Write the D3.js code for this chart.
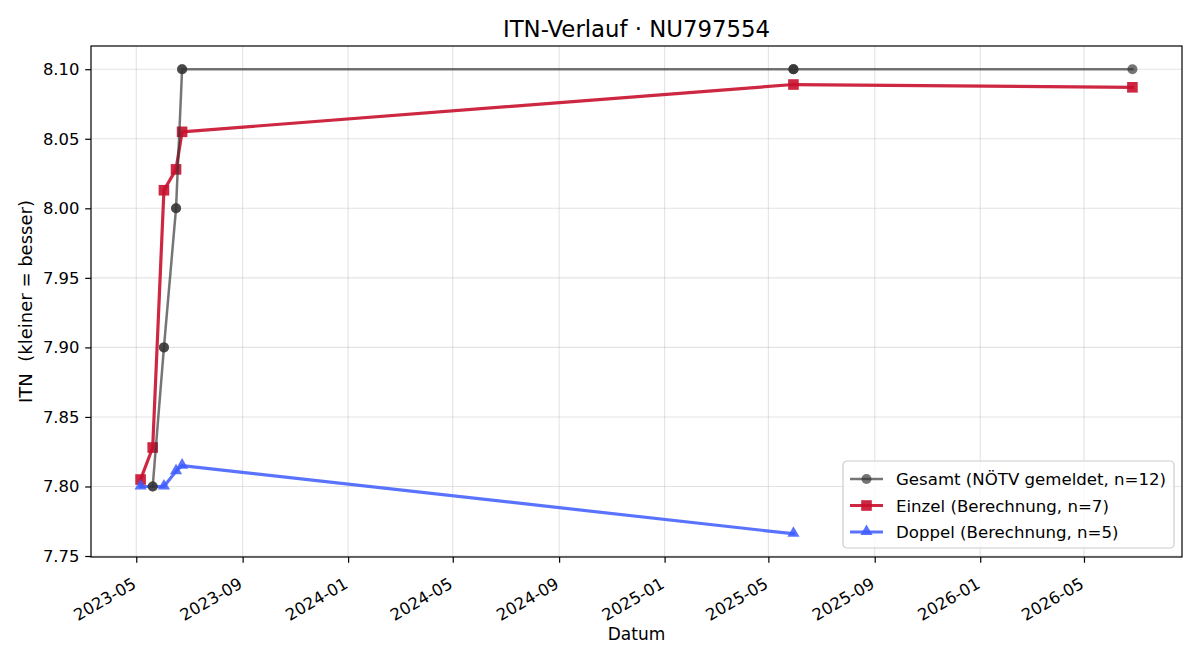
<!DOCTYPE html>
<html>
<head>
<meta charset="utf-8">
<script src="https://cdn.jsdelivr.net/npm/d3@7"></script>
<style>
  body { margin: 0; background: #fff; }
  svg { display: block; font-family: "DejaVu Sans", sans-serif; }
  .tick text { font-family: "DejaVu Sans", sans-serif; font-size: 16.4px; fill: #000; }
</style>
</head>
<body>
<svg id="chart" width="1200" height="660"></svg>
<script>
'use strict';

// Gesamt (NÖTV gemeldet) - 12 entries, several on the same day
var gesamtDates = ['2023-05-20', '2023-05-20', '2023-06-02', '2023-06-02', '2023-06-16', '2023-06-16',
  '2023-06-23', '2023-06-23', '2025-05-30', '2025-05-30', '2025-05-30', '2026-06-26'];
var gesamtValues = [7.80, 7.80, 7.90, 7.90, 8.00, 8.00, 8.10, 8.10, 8.10, 8.10, 8.10, 8.10];

// Einzel (Berechnung)
var einzelDates = ['2023-05-06', '2023-05-20', '2023-06-02', '2023-06-16', '2023-06-23', '2025-05-30', '2026-06-26'];
var einzelValues = [7.805, 7.828, 8.013, 8.028, 8.055, 8.089, 8.087];

// Doppel (Berechnung)
var doppelDates = ['2023-05-06', '2023-06-02', '2023-06-16', '2023-06-23', '2025-05-30'];
var doppelValues = [7.800, 7.800, 7.811, 7.815, 7.766];

var yTickValues = [7.75, 7.80, 7.85, 7.90, 7.95, 8.00, 8.05, 8.10];
var seriesLabels = ['Gesamt (NÖTV gemeldet, n=12)', 'Einzel (Berechnung, n=7)', 'Doppel (Berechnung, n=5)'];
var titleText = 'ITN-Verlauf · NU797554';

var svg = d3.select('#chart');
var margin = { left: 91, right: 18, top: 46, bottom: 103 };
var width = 1200 - margin.left - margin.right;
var height = 660 - margin.top - margin.bottom;

var parse = d3.utcParse('%Y-%m-%d');

function makeSeries(dates, values) {
  return dates.map(function (d, i) { return { date: parse(d), value: values[i] }; });
}

var series = [
  { name: seriesLabels[0], data: makeSeries(gesamtDates, gesamtValues), color: '#333333', alpha: 0.68, lw: 2.5, marker: 'circle' },
  { name: seriesLabels[1], data: makeSeries(einzelDates, einzelValues), color: '#c8102e', alpha: 0.9, lw: 3.2, marker: 'square' },
  { name: seriesLabels[2], data: makeSeries(doppelDates, doppelValues), color: '#3d5afe', alpha: 0.85, lw: 3.2, marker: 'triangle' }
];

// matplotlib style 5% margins
var allPts = series.reduce(function (a, s) { return a.concat(s.data); }, []);
var xExt = d3.extent(allPts, function (d) { return +d.date; });
var yExt = d3.extent(allPts, function (d) { return d.value; });
var xPad = (xExt[1] - xExt[0]) * 0.05;
var yPad = (yExt[1] - yExt[0]) * 0.05;

var x = d3.scaleUtc().domain([new Date(xExt[0] - xPad), new Date(xExt[1] + xPad)]).range([0, width]);
var y = d3.scaleLinear().domain([yExt[0] - yPad, yExt[1] + yPad]).range([height, 0]);

var g = svg.append('g').attr('transform', 'translate(' + margin.left + ',' + margin.top + ')');

var xTicks = x.ticks(d3.utcMonth.every(4));

//Grid
g.append('g').selectAll('line.gx').data(xTicks).enter().append('line')
  .attr('x1', function (d) { return x(d); }).attr('x2', function (d) { return x(d); })
  .attr('y1', 0).attr('y2', height)
  .attr('stroke', '#b0b0b0').attr('stroke-opacity', 0.35).attr('stroke-width', 1.1);
g.append('g').selectAll('line.gy').data(yTickValues).enter().append('line')
  .attr('y1', function (d) { return y(d); }).attr('y2', function (d) { return y(d); })
  .attr('x1', 0).attr('x2', width)
  .attr('stroke', '#b0b0b0').attr('stroke-opacity', 0.35).attr('stroke-width', 1.1);

//Axes
var xAxis = g.append('g').attr('transform', 'translate(0,' + height + ')')
  .call(d3.axisBottom(x).tickValues(xTicks).tickFormat(d3.utcFormat('%Y-%m')).tickSize(5.8).tickPadding(5.8));
xAxis.attr('font-size', null).attr('font-family', null);
xAxis.select('.domain').remove();
xAxis.selectAll('line').attr('stroke', '#000').attr('stroke-width', 1.2);
xAxis.selectAll('text')
  .attr('text-anchor', 'end')
  .attr('dy', null).attr('y', null)
  .attr('transform', 'translate(0.5,30) rotate(-30)');

var yAxis = g.append('g')
  .call(d3.axisLeft(y).tickValues(yTickValues).tickFormat(d3.format('.2f')).tickSize(5.8).tickPadding(5.8));
yAxis.attr('font-size', null).attr('font-family', null);
yAxis.select('.domain').remove();
yAxis.selectAll('line').attr('stroke', '#000').attr('stroke-width', 1.2);

//Lines + markers
var line = d3.line().x(function (d) { return x(d.date); }).y(function (d) { return y(d.value); });

function drawMarker(sel, type, color, alpha) {
  if (type === 'circle') {
    sel.append('circle').attr('r', 5).attr('fill', color).attr('fill-opacity', alpha);
  } else if (type === 'square') {
    sel.append('rect').attr('x', -5.3).attr('y', -5.3).attr('width', 10.6).attr('height', 10.6)
      .attr('fill', color).attr('fill-opacity', alpha);
  } else {
    sel.append('path').attr('d', d3.symbol().type(d3.symbolTriangle).size(64)())
      .attr('transform', 'translate(0,-0.5)')
      .attr('fill', color).attr('fill-opacity', alpha);
  }
}

// draw Gesamt last so it sits on top
[1, 2, 0].forEach(function (idx) {
  var s = series[idx];
  g.append('path').datum(s.data).attr('d', line)
    .attr('fill', 'none').attr('stroke', s.color).attr('stroke-opacity', s.alpha)
    .attr('stroke-width', s.lw).attr('stroke-linejoin', 'round').attr('stroke-linecap', 'square');
  s.data.forEach(function (d) {
    var m = g.append('g').attr('transform', 'translate(' + x(d.date) + ',' + y(d.value) + ')');
    drawMarker(m, s.marker, s.color, s.alpha);
  });
});

//Frame
g.append('rect').attr('width', width).attr('height', height)
  .attr('fill', 'none').attr('stroke', '#000').attr('stroke-width', 1.2);

//Title and labels
svg.append('text').attr('x', margin.left + width / 2).attr('y', 37)
  .attr('text-anchor', 'middle').attr('font-size', 22.8).text(titleText);
svg.append('text').attr('x', margin.left + width / 2).attr('y', 640)
  .attr('text-anchor', 'middle').attr('font-size', 17).text('Datum');
svg.append('text').attr('transform', 'translate(32,' + (margin.top + height / 2) + ') rotate(-90)')
  .attr('text-anchor', 'middle').attr('font-size', 18).attr('xml:space', 'preserve')
  .text('ITN  (kleiner = besser)');

//Legend
var legend = svg.append('g').attr('transform', 'translate(843,461)');
legend.append('rect').attr('width', 331).attr('height', 87).attr('rx', 4)
  .attr('fill', '#fff').attr('fill-opacity', 0.8).attr('stroke', '#cccccc').attr('stroke-width', 1.2);
series.forEach(function (s, i) {
  var row = legend.append('g').attr('transform', 'translate(0,' + (18 + i * 26.5) + ')');
  row.append('line').attr('x1', 7).attr('x2', 40).attr('y1', 0).attr('y2', 0)
    .attr('stroke', s.color).attr('stroke-opacity', s.alpha).attr('stroke-width', s.lw);
  var m = row.append('g').attr('transform', 'translate(23.5,0)');
  drawMarker(m, s.marker, s.color, s.alpha);
  row.append('text').attr('x', 53).attr('y', 6).attr('font-size', 16.6).text(s.name);
});
</script>
</body>
</html>
